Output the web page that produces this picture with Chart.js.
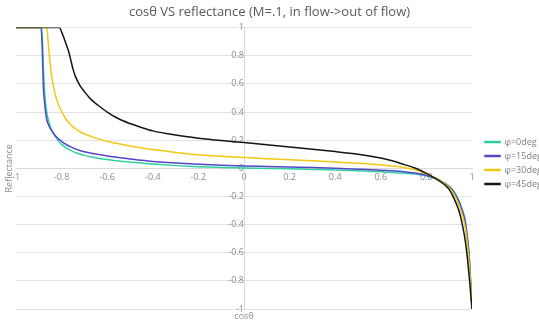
<!DOCTYPE html>
<html>
<head>
<meta charset="utf-8">
<script src="https://cdn.jsdelivr.net/npm/chart.js@4.4.1/dist/chart.umd.min.js"></script>
<style>
  html, body { margin: 0; padding: 0; background: #fff; overflow: hidden; }
  #wrap { width: 539px; height: 326px; }
</style>
</head>
<body>
<div id="wrap"><canvas id="chart"></canvas></div>
<script>
// cos(theta) sample points (denser near the steep ends)
const cosTheta = [-1, -0.9, -0.89, -0.885, -0.88, -0.875, -0.87, -0.865, -0.86, -0.85,
  -0.84, -0.83, -0.82, -0.81, -0.8, -0.79, -0.78, -0.77, -0.76, -0.75,
  -0.74, -0.72, -0.7, -0.67, -0.64, -0.6, -0.55, -0.5, -0.45, -0.4,
  -0.3, -0.2, -0.1, 0, 0.1, 0.2, 0.3, 0.4, 0.5, 0.6,
  0.65, 0.7, 0.75, 0.8, 0.85, 0.88, 0.9, 0.92, 0.94, 0.95,
  0.96, 0.97, 0.98, 0.985, 0.99, 0.995, 1];

// reflectance
const phi0 = [1, 1, 1, 0.95, 0.72, 0.55, 0.46, 0.40, 0.355, 0.30,
  0.262, 0.232, 0.207, 0.186, 0.170, 0.157, 0.146, 0.136, 0.127, 0.119,
  0.112, 0.101, 0.092, 0.081, 0.072, 0.062, 0.052, 0.044, 0.037, 0.030,
  0.019, 0.011, 0.006, 0.002, -0.001, -0.004, -0.008, -0.012, -0.018, -0.025,
  -0.029, -0.034, -0.041, -0.054, -0.079, -0.106, -0.128, -0.163, -0.22, -0.26,
  -0.305, -0.37, -0.49, -0.565, -0.68, -0.83, -1];

const phi15 = [1, 1, 1, 0.85, 0.58, 0.47, 0.395, 0.345, 0.318, 0.283,
  0.258, 0.237, 0.219, 0.204, 0.191, 0.179, 0.169, 0.160, 0.152, 0.145,
  0.138, 0.127, 0.118, 0.107, 0.099, 0.088, 0.077, 0.066, 0.057, 0.049,
  0.037, 0.028, 0.022, 0.017, 0.013, 0.009, 0.005, 0.000, -0.006, -0.013,
  -0.018, -0.024, -0.034, -0.050, -0.077, -0.107, -0.130, -0.167, -0.228, -0.268,
  -0.315, -0.375, -0.50, -0.58, -0.69, -0.84, -1];

const phi30 = [1, 1, 1, 1, 1, 1, 1, 1, 0.92, 0.74,
  0.62, 0.54, 0.48, 0.437, 0.403, 0.374, 0.348, 0.327, 0.309, 0.294,
  0.281, 0.261, 0.245, 0.226, 0.209, 0.192, 0.174, 0.158, 0.145, 0.133,
  0.113, 0.096, 0.085, 0.076, 0.068, 0.060, 0.053, 0.045, 0.036, 0.024,
  0.016, 0.006, -0.011, -0.040, -0.078, -0.110, -0.137, -0.182, -0.25, -0.295,
  -0.345, -0.42, -0.545, -0.625, -0.73, -0.86, -1];

const phi45 = [1, 1, 1, 1, 1, 1, 1, 1, 1, 1,
  1, 1, 1, 1, 0.97, 0.928, 0.882, 0.835, 0.772, 0.705,
  0.655, 0.59, 0.545, 0.488, 0.448, 0.40, 0.352, 0.318, 0.29, 0.266,
  0.236, 0.214, 0.197, 0.183, 0.168, 0.151, 0.135, 0.119, 0.100, 0.073,
  0.053, 0.028, 0.002, -0.036, -0.082, -0.117, -0.15, -0.21, -0.29, -0.345,
  -0.42, -0.51, -0.64, -0.725, -0.81, -0.905, -1];

const seriesNames = ['φ=0deg', 'φ=15deg', 'φ=30deg', 'φ=45deg'];
const xTickValues = [-1, -0.8, -0.6, -0.4, -0.2, 0, 0.2, 0.4, 0.6, 0.8, 1];
const yTickValues = [-1, -0.8, -0.6, -0.4, -0.2, 0, 0.2, 0.4, 0.6, 0.8, 1];

Chart.defaults.font.family = "'Open Sans', sans-serif";

function toPoints(ys) {
    return cosTheta.map(function(x, i) { return { x: x, y: ys[i] }; });
}

const tickFont = { size: 9 };
const tickColor = '#8c8c8c';

new Chart(document.getElementById('chart'), {
    type: 'line',
    data: {
        datasets: [{
            label: seriesNames[0],
            data: toPoints(phi0),
            borderColor: '#2fd0a0',
            backgroundColor: '#2fd0a0',
            order: 4
        }, {
            label: seriesNames[1],
            data: toPoints(phi15),
            borderColor: '#5147c9',
            backgroundColor: '#5147c9',
            order: 3
        }, {
            label: seriesNames[2],
            data: toPoints(phi30),
            borderColor: '#f2c811',
            backgroundColor: '#f2c811',
            order: 2
        }, {
            label: seriesNames[3],
            data: toPoints(phi45),
            borderColor: '#141414',
            backgroundColor: '#141414',
            order: 1
        }]
    },
    options: {
        responsive: true,
        maintainAspectRatio: false,
        animation: false,
        elements: {
            point: { radius: 0 },
            line: { borderWidth: 1.5, cubicInterpolationMode: 'monotone', fill: false }
        },
        plugins: {
            title: {
                display: true,
                text: 'cosθ VS reflectance (M=.1, in flow->out of flow)',
                color: '#595959',
                font: { size: 13, weight: 'normal' },
                padding: { top: 4, bottom: 8 }
            },
            legend: {
                position: 'right',
                maxWidth: 59,
                labels: {
                    boxWidth: 15,
                    boxHeight: 1,
                    padding: 5,
                    color: '#7f7f7f',
                    font: { size: 9 },
                    sort: function(a, b) { return a.datasetIndex - b.datasetIndex; }
                }
            },
            tooltip: { enabled: false }
        },
        scales: {
            x: {
                type: 'linear',
                min: -1,
                max: 1,
                position: { y: 0 },
                grid: { display: false, drawTicks: false },
                border: { color: '#d9d9d9' },
                ticks: {
                    color: tickColor,
                    font: tickFont,
                    padding: 4,
                    autoSkip: false,
                    maxRotation: 0,
                    callback: function(value) { return String(value); }
                },
                afterBuildTicks: function(scale) {
                    scale.ticks = xTickValues.map(function(v) { return { value: v }; });
                }
            },
            y: {
                type: 'linear',
                min: -1,
                max: 1,
                position: { x: 0 },
                grid: { color: '#e3e3e3', drawTicks: false },
                border: { color: '#d9d9d9' },
                ticks: {
                    color: tickColor,
                    font: tickFont,
                    padding: 5,
                    autoSkip: false,
                    callback: function(value) { return String(value); }
                },
                afterBuildTicks: function(scale) {
                    scale.ticks = yTickValues.map(function(v) { return { value: v }; });
                }
            },
            xTitle: {
                axis: 'x',
                type: 'linear',
                position: 'bottom',
                ticks: { display: false },
                grid: { display: false },
                border: { display: false },
                title: { display: true, text: 'cosθ', color: tickColor, font: tickFont, padding: { top: 4, bottom: 4 } },
                afterFit: function(scale) { scale.height = 17; }
            },
            yTitle: {
                axis: 'y',
                type: 'linear',
                position: 'left',
                ticks: { display: false },
                grid: { display: false },
                border: { display: false },
                title: { display: true, text: 'Reflectance', color: tickColor, font: tickFont, padding: { top: 4, bottom: 4 } },
                afterFit: function(scale) { scale.width = 16; }
            },
            ySpacer: {
                axis: 'y',
                type: 'linear',
                position: 'right',
                ticks: { display: false },
                grid: { display: false },
                border: { display: false },
                afterFit: function(scale) { scale.width = 8; }
            }
        }
    }
});
</script>
</body>
</html>
